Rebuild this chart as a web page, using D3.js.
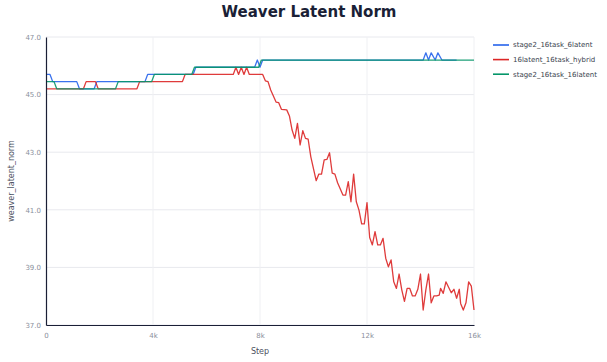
<!DOCTYPE html>
<html><head><meta charset="utf-8">
<script src="https://cdn.jsdelivr.net/npm/d3@7"></script>
<style>body{margin:0;background:#fff;}svg{display:block;font-family:"DejaVu Sans",sans-serif;}</style>
</head><body><svg id="c" width="607" height="362"></svg>
<script>
const seriesNames = ["stage2_16task_6latent", "16latent_16task_hybrid", "stage2_16task_16latent"];
const seriesColors = ["#2563eb", "#dc2626", "#059669"];
const xTicks = [0, 4000, 8000, 12000, 16000];
const xTickLabels = ["0", "4k", "8k", "12k", "16k"];
const yTicks = [37, 39, 41, 43, 45, 47];

const blueSteps = [0,150,250,1150,1250,1800,1900,3700,3800,5500,5600,7800,7900,8000,8100,14100,14200,14300,14400,14550,14650,14800,15350];
const blueVals  = [45.7,45.7,45.45,45.45,45.2,45.2,45.45,45.45,45.7,45.7,45.95,45.95,46.2,45.95,46.2,46.2,46.45,46.2,46.45,46.2,46.45,46.2,46.2];

const redSteps = [0,1400,1500,1850,1950,3400,3500,5100,5200,7000,7100,7200,7300,7400,7500,7600,8100,8200,8300,8400,8600,8700,8800,9000,9100,9200,9300,9400,9500,9600,9700,9800,9900,10100,10200,10300,10400,10500,10600,10700,10800,10900,11100,11200,11300,11400,11500,11600,11700,11800,11900,12000,12100,12200,12300,12400,12500,12600,12700,12800,12900,13000,13100,13200,13300,13400,13500,13600,13700,13800,13900,14000,14100,14200,14300,14400,14500,14600,14700,14750,14850,14950,15050,15150,15250,15350,15450,15500,15600,15700,15800,15900,16000];
const redVals  = [45.2,45.2,45.45,45.45,45.2,45.2,45.45,45.45,45.7,45.7,45.95,45.7,45.95,45.7,45.95,45.7,45.7,45.48,45.45,45.16,44.74,44.72,44.49,44.47,44.26,43.77,43.48,44.0,43.25,43.75,43.48,43.45,42.84,42.01,42.24,42.24,42.73,42.75,42.98,42.27,42.24,41.94,41.51,41.51,41.98,41.28,42.24,41.28,40.99,40.51,40.51,41.25,40.04,39.78,40.24,39.78,39.78,40.01,39.32,39.02,39.26,38.5,38.27,38.77,38.22,37.82,38.27,38.27,38.01,38.01,38.24,38.77,37.52,38.22,38.77,37.77,38.01,38.01,38.04,38.27,38.1,38.5,38.31,38.12,38.24,37.93,38.24,37.75,37.52,37.77,38.5,38.35,37.52];

const greenSteps = [0,300,400,2600,2700,3950,4050,5450,5550,7950,8050,16000];
const greenVals  = [45.45,45.45,45.2,45.2,45.45,45.45,45.7,45.7,45.95,45.95,46.2,46.2];

const series = [
  {name: seriesNames[0], color: seriesColors[0], pts: blueSteps.map((s,i)=>[s, blueVals[i]])},
  {name: seriesNames[1], color: seriesColors[1], pts: redSteps.map((s,i)=>[s, redVals[i]])},
  {name: seriesNames[2], color: seriesColors[2], pts: greenSteps.map((s,i)=>[s, greenVals[i]])}
];

const svg = d3.select("#c");
const L = 46, R = 474, T = 37, B = 325;
const x = d3.scaleLinear().domain([0,16000]).range([L,R]);
const y = d3.scaleLinear().domain([37,47]).range([B,T]);

// grid
svg.append("g").selectAll("line").data(yTicks).join("line")
  .attr("x1", L).attr("x2", R).attr("y1", d=>y(d)).attr("y2", d=>y(d))
  .attr("stroke", "#e8e9ee").attr("stroke-width", 1);
svg.append("g").selectAll("line").data(xTicks.slice(1)).join("line")
  .attr("x1", d=>x(d)).attr("x2", d=>x(d)).attr("y1", T).attr("y2", B)
  .attr("stroke", "#eff0f3").attr("stroke-width", 1);

// lines
const line = d3.line().x(d=>x(d[0])).y(d=>y(d[1]));
series.forEach(s=>{
  svg.append("path").datum(s.pts).attr("d", line)
    .attr("fill","none").attr("stroke", s.color).attr("stroke-width", 1.3)
    .attr("stroke-opacity", 0.9).attr("stroke-linejoin","round");
});

// axes
const xAxis = d3.axisBottom(x).tickValues(xTicks).tickFormat((d,i)=>xTickLabels[i]).tickSize(0).tickPadding(8);
const yAxis = d3.axisLeft(y).tickValues(yTicks).tickFormat(d3.format(".1f")).tickSize(0).tickPadding(5);
const gx = svg.append("g").attr("transform", `translate(0,${B})`).call(xAxis);
const gy = svg.append("g").attr("transform", `translate(${L},0)`).call(yAxis);
[gx, gy].forEach(g=>{
  g.select(".domain").attr("stroke", "#1a1f36").attr("stroke-width", 1.2);
  g.selectAll("text").attr("fill", "#8a8f9c").attr("font-size", 7).attr("font-family", "DejaVu Sans, sans-serif");
});

// title
svg.append("text").attr("x", 309).attr("y", 17).attr("text-anchor","middle")
  .attr("font-size", 15).attr("font-weight","bold").attr("fill","#1a1f36").text("Weaver Latent Norm");

// axis labels
svg.append("text").attr("x", (L+R)/2).attr("y", 354).attr("text-anchor","middle")
  .attr("font-size", 8).attr("fill","#4b5060").text("Step");
svg.append("text").attr("transform", `translate(14,${(T+B)/2}) rotate(-90)`).attr("text-anchor","middle")
  .attr("font-size", 8).attr("fill","#4b5060").text("weaver_latent_norm");

// legend
const lg = svg.append("g");
series.forEach((s,i)=>{
  const yy = 45 + i*14.6;
  lg.append("line").attr("x1", 493).attr("x2", 509).attr("y1", yy).attr("y2", yy)
    .attr("stroke", s.color).attr("stroke-width", 1.6);
  lg.append("text").attr("x", 513).attr("y", yy).attr("dy","0.35em")
    .attr("font-size", 7).attr("fill","#3a3f4e").text(s.name);
});
</script></body></html>
